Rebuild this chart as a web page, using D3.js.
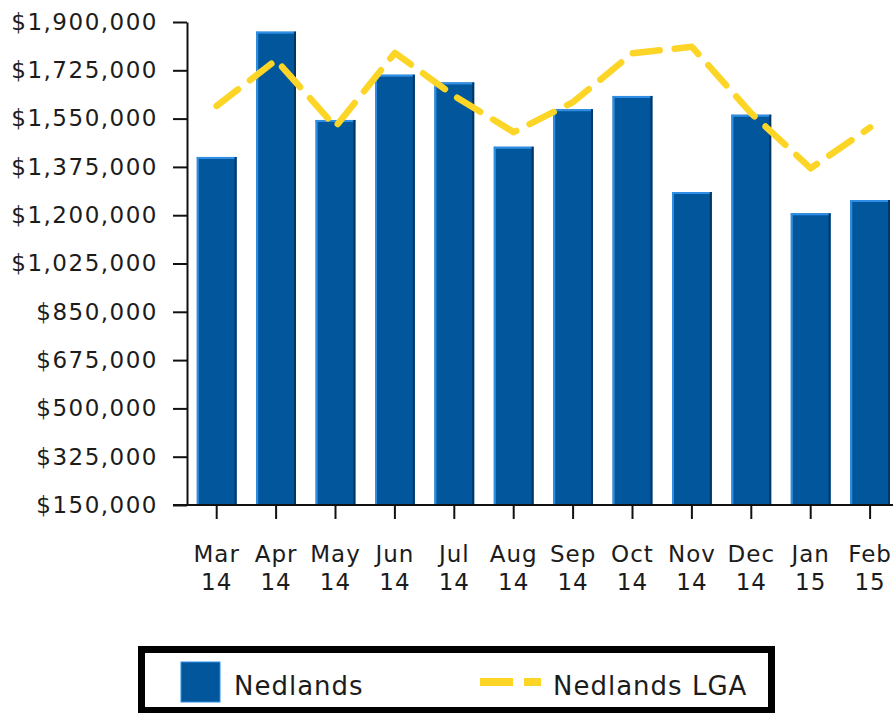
<!DOCTYPE html>
<html>
<head>
<meta charset="utf-8">
<script src="https://cdn.jsdelivr.net/npm/d3@7/dist/d3.min.js"></script>
<style>
  body { margin: 0; background: #fff; }
  svg { display: block; }
  text { font-family: "DejaVu Sans", Verdana, sans-serif; fill: #1c1c1c; letter-spacing: 1px; }
</style>
</head>
<body>
<div id="chart"></div>
<script>
// data
var months = ["Mar 14", "Apr 14", "May 14", "Jun 14", "Jul 14", "Aug 14",
              "Sep 14", "Oct 14", "Nov 14", "Dec 14", "Jan 15", "Feb 15"];
var suburb = [1411000, 1865000, 1545000, 1709000, 1681000, 1448000,
              1584000, 1632000, 1284000, 1564000, 1207000, 1255000];
var lga = [1596000, 1762000, 1520000, 1788000, 1632000, 1501000,
           1610000, 1787000, 1810000, 1569000, 1370000, 1518000];
var yTicks = [150000, 325000, 500000, 675000, 850000, 1025000,
              1200000, 1375000, 1550000, 1725000, 1900000];
var seriesNames = ["Nedlands", "Nedlands LGA"];

var W = 893, H = 713;
var margin = {top: 22, left: 187, bottom: 208};
var plotBottom = H - margin.bottom;   // 505
var blue = "#02579c", yellow = "#fcd526";

var svg = d3.select("#chart").append("svg")
    .attr("width", W)
    .attr("height", H);

var x = d3.scaleBand()
    .domain(months)
    .range([margin.left, margin.left + 12 * 59.4])
    .paddingInner(0.33)
    .paddingOuter(0.165);

var y = d3.scaleLinear()
    .domain([150000, 1900000])
    .range([plotBottom, margin.top]);

var fmt = d3.format(",");

// bars
var bars = svg.append("g").selectAll("g")
    .data(suburb)
    .enter().append("g");

bars.append("rect")
    .attr("x", function(d, i) { return x(months[i]); })
    .attr("y", function(d) { return y(d); })
    .attr("width", x.bandwidth())
    .attr("height", function(d) { return plotBottom - y(d); })
    .attr("fill", blue);

// little bevel on the bars
bars.append("rect")
    .attr("x", function(d, i) { return x(months[i]); })
    .attr("y", function(d) { return y(d); })
    .attr("width", x.bandwidth())
    .attr("height", 2)
    .attr("fill", "#2f8fe6");
bars.append("rect")
    .attr("x", function(d, i) { return x(months[i]); })
    .attr("y", function(d) { return y(d); })
    .attr("width", 2)
    .attr("height", function(d) { return plotBottom - y(d); })
    .attr("fill", "#2f8fe6");
bars.append("rect")
    .attr("x", function(d, i) { return x(months[i]) + x.bandwidth() - 2; })
    .attr("y", function(d) { return y(d); })
    .attr("width", 2)
    .attr("height", function(d) { return plotBottom - y(d); })
    .attr("fill", "#013665");

// LGA line
var line = d3.line()
    .x(function(d, i) { return x(months[i]) + x.bandwidth() / 2; })
    .y(function(d) { return y(d); });

svg.append("path")
    .datum(lga)
    .attr("d", line)
    .attr("fill", "none")
    .attr("stroke", yellow)
    .attr("stroke-width", 6.5)
    .attr("stroke-linecap", "round")
    .attr("stroke-linejoin", "round")
    .attr("stroke-dasharray", "27,15");

// axes
var yAxis = svg.append("g")
    .attr("transform", "translate(" + margin.left + ",0)")
    .call(d3.axisLeft(y)
        .tickValues(yTicks)
        .tickFormat(function(d) { return "$" + fmt(d); })
        .tickSize(14)
        .tickSizeOuter(0)
        .tickPadding(15));

var xAxis = svg.append("g")
    .attr("transform", "translate(0," + plotBottom + ")")
    .call(d3.axisBottom(x).tickSize(14).tickSizeOuter(0));

xAxis.select(".domain").attr("d", "M173,0H" + W);

svg.selectAll(".domain, .tick line")
    .attr("stroke", "#111")
    .attr("stroke-width", 2);

yAxis.selectAll("text")
    .style("font-size", "23px")
    .style("letter-spacing", "1.5px");

xAxis.selectAll("text").each(function(d) {
    var parts = d.split(" ");
    var t = d3.select(this).text(null).attr("dy", null).attr("y", null)
        .style("font-size", "23px");
    t.append("tspan").attr("x", 0).attr("y", 57).text(parts[0]);
    t.append("tspan").attr("x", 0).attr("y", 85).text(parts[1]);
});

// legend
var legend = svg.append("g");
legend.append("rect")
    .attr("x", 141.5)
    .attr("y", 649.5)
    .attr("width", 630)
    .attr("height", 61)
    .attr("fill", "#fff")
    .attr("stroke", "#000")
    .attr("stroke-width", 7);

legend.append("rect")
    .attr("x", 181).attr("y", 662)
    .attr("width", 39).attr("height", 40)
    .attr("fill", blue)
    .attr("stroke", "#2f8fe6")
    .attr("stroke-width", 1);

legend.append("text")
    .attr("x", 234).attr("y", 695)
    .style("font-size", "26px")
    .text(seriesNames[0]);

legend.append("line")
    .attr("x1", 480).attr("x2", 541)
    .attr("y1", 682).attr("y2", 682)
    .attr("stroke", yellow)
    .attr("stroke-width", 8)
    .attr("stroke-dasharray", "33,11");

legend.append("text")
    .attr("x", 553).attr("y", 695)
    .style("font-size", "26px")
    .text(seriesNames[1]);
</script>
</body>
</html>
